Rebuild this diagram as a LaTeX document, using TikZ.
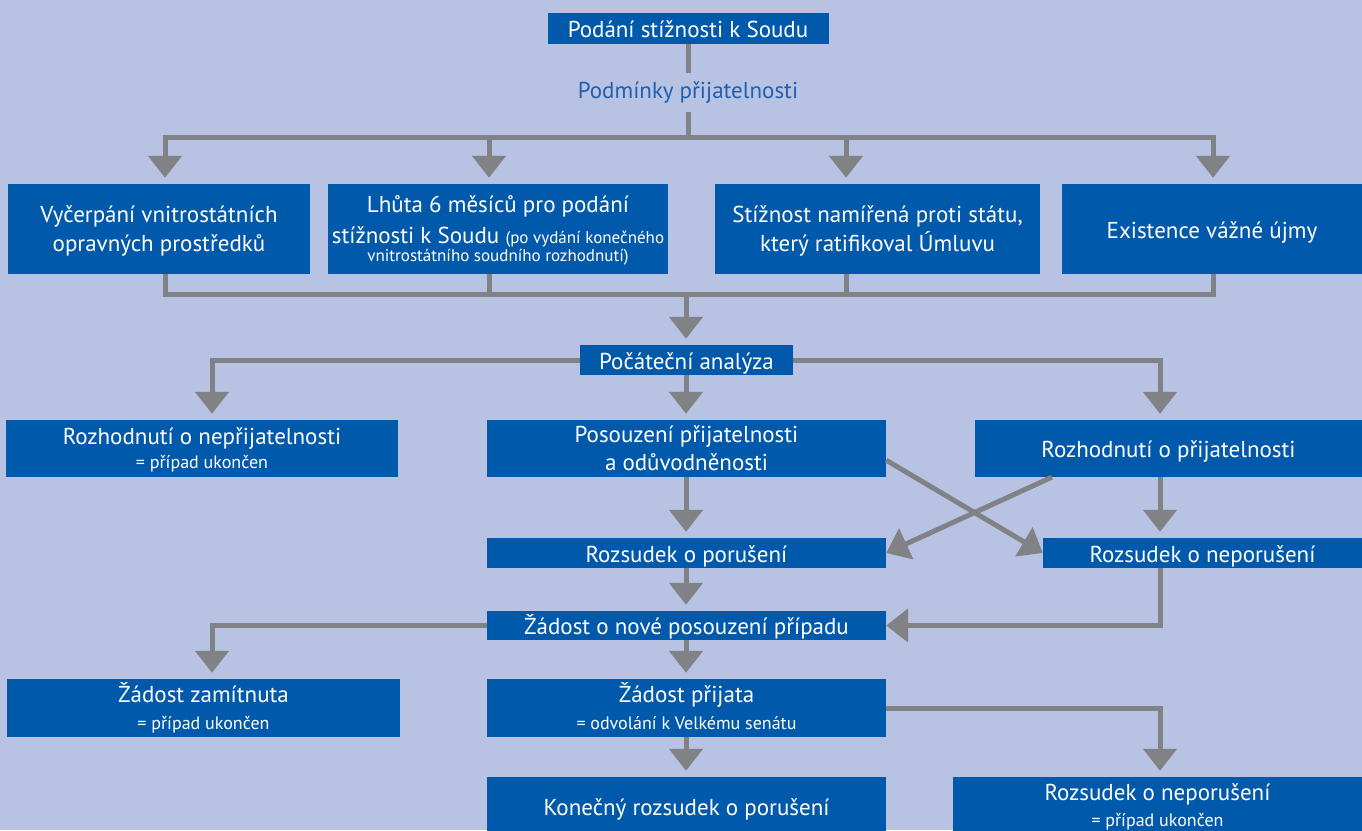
\documentclass[tikz,border=0pt]{standalone}
\usepackage{fontspec}
\setmainfont{PT Sans}
\usetikzlibrary{arrows.meta,calc}
\definecolor{bgc}{HTML}{B8C3E3}
\definecolor{boxc}{HTML}{0059AA}
\definecolor{linec}{HTML}{808285}
\definecolor{labc}{HTML}{1F5FAF}
\newcommand{\boxstrut}{\lineskiplimit=-30pt\relax\lineskip=0pt\relax\rule{0pt}{23pt}}
\newcommand{\twostrut}{\lineskiplimit=-30pt\relax\lineskip=0pt\relax\rule{0pt}{27pt}}
\tikzset{
  box/.style={fill=boxc, text=white, inner sep=0pt, align=center,
    font=\fontsize{23}{29}\selectfont,
    execute at begin node={\boxstrut}, text depth=5pt},
  twobox/.style={box, execute at begin node={\twostrut}, text depth=1pt},
  conn/.style={draw=linec, line width=5pt},
  arr/.style={conn, -{Triangle[width=33pt,length=22pt]}},
  arrs/.style={arr, shorten >=6pt},
}
\newcommand{\sm}[1]{{\fontsize{18}{21}\selectfont #1}}
\newcommand{\smb}[1]{{\fontsize{17}{20}\selectfont #1}}
\begin{document}
\begin{tikzpicture}[x=1pt,y=-1pt]
\fill[bgc] (0,0) rectangle (1362,830);
\useasboundingbox (0,0) rectangle (1362,830);
\clip (0,0) rectangle (1362,830);
% column coordinates
\coordinate (ca) at (165,0);
\coordinate (cb) at (489,0);
\coordinate (cc) at (846,0);
\coordinate (cd) at (1213,0);
\coordinate (cl) at (212,0);
\coordinate (cr) at (1160,0);
% nodes
\node[box, minimum width=281, minimum height=31] (podani) at (688,28.5) {Podání stížnosti k Soudu};
\node[text=labc, inner sep=0pt, minimum height=39, font=\fontsize{23}{28}\selectfont] (podm) at (688,92.5) {Podmínky přijatelnosti};
\coordinate (j1) at (688,137);
\node[twobox, minimum width=302, minimum height=90] (A) at (159,229) {Vyčerpání vnitrostátních\\[0.5pt]opravných prostředků};
\node[twobox, minimum width=340, minimum height=90] (B) at (498,229) {Lhůta 6 měsíců pro podání\\[2pt]stížnosti k Soudu \smb{(po vydání konečného}\\[-10.5pt]\smb{vnitrostátního soudního rozhodnutí)}};
\node[twobox, minimum width=325, minimum height=90] (C) at (877.5,229) {Stížnost namířená proti státu,\\[0.5pt]který ratifikoval Úmluvu};
\node[box, minimum width=300, minimum height=90] (D) at (1212,229) {Existence vážné újmy};
\coordinate (j2) at (686,294);
\node[box, minimum width=213, minimum height=30] (poc) at (686.5,360) {Počáteční analýza};
\node[twobox, minimum width=392, minimum height=57] (nep) at (202,448.5) {Rozhodnutí o nepřijatelnosti\\[-4.5pt]\sm{= případ ukončen}};
\node[twobox, minimum width=399, minimum height=57] (pos) at (686.5,448.5) {Posouzení přijatelnosti\\[-1pt]a odůvodněnosti};
\node[box, minimum width=387, minimum height=57] (prij) at (1168.5,448.5) {Rozhodnutí o přijatelnosti};
\node[box, minimum width=399, minimum height=30] (por) at (686.5,553) {Rozsudek o porušení};
\node[box, minimum width=319, minimum height=30] (nepor) at (1202.5,553) {Rozsudek o neporušení};
\node[box, minimum width=399, minimum height=29] (zad) at (686.5,625.5) {Žádost o nové posouzení případu};
\node[box, minimum width=393, minimum height=58] (zam) at (203.5,708) {Žádost zamítnuta\\[-2pt]\sm{= případ ukončen}};
\node[box, minimum width=399, minimum height=58] (prijata) at (686.5,708) {Žádost přijata\\[-2pt]\sm{= odvolání k Velkému senátu}};
\node[box, minimum width=399, minimum height=58] (kon) at (686.5,806) {Konečný rozsudek o porušení};
\node[twobox, minimum width=409, minimum height=58] (nepor2) at (1157.5,806) {Rozsudek o neporušení\\[-3pt]\sm{= případ ukončen}};
% connectors
\draw[conn] (podani.south) -- (podm.north);
\draw[conn] (podm.south) -- (j1);
\draw[arrs] (j1) -| (A.north -| ca);
\draw[arrs] (j1) -| (B.north -| cb);
\draw[arrs] (j1) -| (C.north -| cc);
\draw[arrs] (j1) -| (D.north -| cd);
\draw[conn] (A.south -| ca) |- (j2);
\draw[conn] (B.south -| cb) |- (j2);
\draw[conn] (C.south -| cc) |- (j2);
\draw[conn] (D.south -| cd) |- (j2);
\draw[arrs] (j2) -- (poc.north -| j2);
\draw[arrs] (poc.west) -| (nep.north -| cl);
\draw[arrs] (poc.east) -| (prij.north -| cr);
\draw[arrs] (poc.south -| j2) -- (pos.north -| j2);
\draw[arrs] (pos.south -| j2) -- (por.north -| j2);
\draw[arrs] (prij.south -| cr) -- (nepor.north -| cr);
\draw[arr] ($(pos.south east)+(0,-17)$) -- (nepor.west);
\draw[arr] ($(prij.south west)+(77,0)$) -- (por.east);
\draw[arrs] (por.south -| j2) -- (zad.north -| j2);
\draw[arr] (nepor.south -| cr) |- (zad.east);
\draw[arrs] (zad.west) -| (zam.north -| cl);
\draw[arrs] (zad.south -| j2) -- (prijata.north -| j2);
\draw[arrs] (prijata.east) -| (nepor2.north -| cr);
\draw[arrs] (prijata.south -| j2) -- (kon.north -| j2);
\end{tikzpicture}
\end{document}
